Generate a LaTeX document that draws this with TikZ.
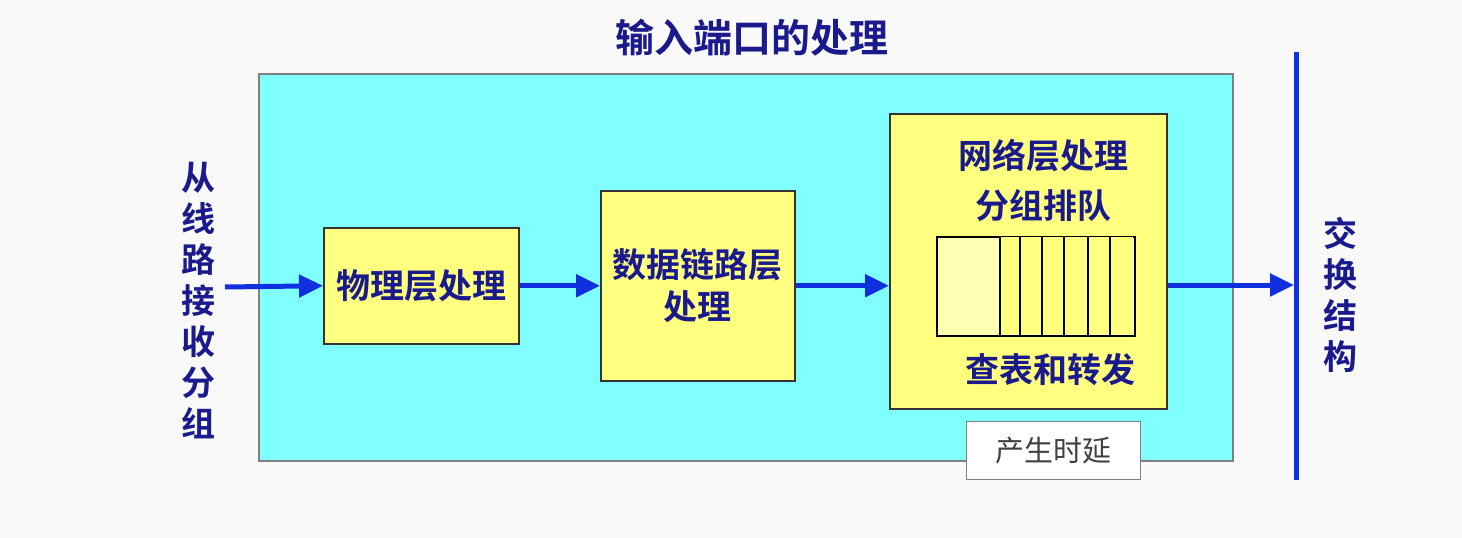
\documentclass[tikz,border=0pt]{standalone}
\usepackage{fontspec}
\newfontfamily\cjk{Noto Sans CJK SC}
\newfontfamily\cjkb{Noto Sans CJK SC Bold}
\usetikzlibrary{arrows.meta}
\definecolor{tblue}{HTML}{1A1A8C}
\definecolor{ablue}{HTML}{1030E0}
\definecolor{ybox}{HTML}{FFFF80}
\definecolor{cbox}{HTML}{80FFFF}
\tikzset{
  ybx/.style={draw=black!80,line width=1.5pt,fill=ybox,inner sep=0pt},
  lbl/.style={text=tblue,font=\cjkb\fontsize{34}{42}\selectfont,align=center},
  flow/.style={draw=ablue,line width=5pt,-{Triangle[length=24pt,width=22pt]}},
}
\begin{document}
\begin{tikzpicture}[x=1pt,y=-1pt]
\useasboundingbox (0,0) rectangle (1462,538);
\fill[white!95!gray] (0,0) rectangle (1462,538);
\node[lbl,font=\cjkb\fontsize{39}{42}\selectfont] (title) at (752,38) {输入端口的处理};
\node[draw=black!50,line width=2pt,fill=cbox,minimum width=974pt,minimum height=387pt,anchor=north west,inner sep=0pt] (main) at (258,73) {};
\node[lbl,text width=40pt,font=\cjkb\fontsize{34}{41}\selectfont] (left) at (198,300) {从\\线\\路\\接\\收\\分\\组};
\node[lbl,text width=40pt,font=\cjkb\fontsize{34}{41}\selectfont] (right) at (1340,295) {交\\换\\结\\构};
\node[ybx,minimum width=195pt,minimum height=116pt,anchor=north west] (b1) at (323,227) {};
\node[lbl] at (b1.center) {物理层处理};
\node[ybx,minimum width=194pt,minimum height=190pt,anchor=north west] (b2) at (600,190) {};
\node[lbl] at (b2.center) {数据链路层\\处理};
\node[ybx,minimum width=277pt,minimum height=295pt,anchor=north west] (b3) at (889,113) {};
\node[lbl,font=\cjkb\fontsize{34}{50}\selectfont] (t3) at (1043,180) {网络层处理\\分组排队};
\node[lbl] (t4) at (1050,370) {查表和转发};
\node[draw=black,line width=1.5pt,fill=ybox!60!white,minimum width=198pt,minimum height=99pt,anchor=north west,inner sep=0pt] (q) at (936,236) {};
\fill[ybox] (1000,237) rectangle (1133,334);
\foreach \x in {1000,1020,1042,1064,1088,1110} \draw[line width=1.5pt] (\x,236) -- (\x,335);
\node[draw=black!50,line width=1pt,fill=white,minimum width=174pt,minimum height=58pt,anchor=north west,inner sep=0pt,font=\cjk\fontsize{29}{30}\selectfont,text=black!75] (delay) at (966,421) {产生时延};
\coordinate (in) at (225,287);
\coordinate (sw) at (1294,285);
\draw[ablue,line width=5pt] (1296,52) -- (1296,480);
\draw[flow] (in) -- (b1.west);
\draw[flow] (b1.east) -- (b2.west |- b1.east);
\draw[flow] (b2.east |- b1.east) -- (b3.west |- b1.east);
\draw[flow] (b3.east |- sw) -- (sw);
\end{tikzpicture}
\end{document}
